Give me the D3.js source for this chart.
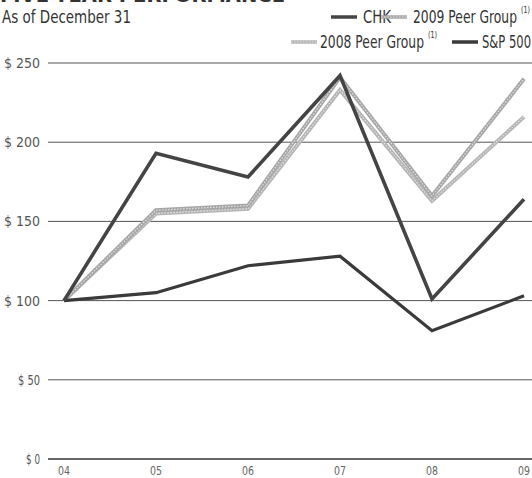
<!DOCTYPE html>
<html>
<head>
<meta charset="utf-8">
<script src="https://cdn.jsdelivr.net/npm/d3@7"></script>
<style>
  html, body { margin: 0; padding: 0; background: #fff; }
  svg { display: block; }
  text { font-family: "DejaVu Sans", "Liberation Sans", sans-serif; }
</style>
</head>
<body>
<svg id="chart" width="532" height="478"></svg>
<script>
// Cumulative value of $100 invested at year-end 2004
const years = ["04", "05", "06", "07", "08", "09"];
const chk = [100, 193, 178, 242, 101, 164];
const peer2009 = [100, 157, 160, 241, 166, 240];
const peer2008 = [100, 155, 158, 233, 163, 216];
const sp500 = [100, 105, 122, 128, 81, 103];
const yTicks = [0, 50, 100, 150, 200, 250];

const svg = d3.select("#chart");
const plotLeft = 48, plotRight = 532;

const x = d3.scalePoint().domain(years).range([64, 524]);
const y = d3.scaleLinear().domain([0, 250]).range([459, 63]);

// Condensed look: squeeze each label to a set width
function fit(sel, w) {
  return sel.attr("textLength", w).attr("lengthAdjust", "spacingAndGlyphs");
}

// Title, clipped at the top edge
fit(svg.append("text")
  .attr("x", 0).attr("y", 2)
  .attr("font-size", 17).attr("font-weight", "bold")
  .attr("fill", "#333")
  .text("FIVE-YEAR PERFORMANCE"), 285);

fit(svg.append("text")
  .attr("x", 2).attr("y", 23)
  .attr("font-size", 17.5).attr("fill", "#333")
  .text("As of December 31"), 129);

// Gridlines with dollar labels
const labelWidth = { 0: 14, 50: 22 };
const grid = svg.append("g");
grid.selectAll("line").data(yTicks).join("line")
  .attr("x1", plotLeft).attr("x2", plotRight)
  .attr("y1", d => y(d)).attr("y2", d => y(d))
  .attr("stroke", d => d === 0 ? "#333" : "#555")
  .attr("stroke-width", d => d === 0 ? 1.4 : 1);
grid.selectAll("text").data(yTicks).join("text")
  .attr("x", 40).attr("y", d => y(d) + 5)
  .attr("text-anchor", "end")
  .attr("font-size", 13.5).attr("fill", "#555")
  .attr("textLength", d => labelWidth[d] || 36)
  .attr("lengthAdjust", "spacingAndGlyphs")
  .text(d => "$ " + d);

// Year labels
svg.append("g").selectAll("text").data(years).join("text")
  .attr("x", d => x(d)).attr("y", 475)
  .attr("text-anchor", "middle")
  .attr("font-size", 13).attr("fill", "#666")
  .attr("textLength", 12)
  .attr("lengthAdjust", "spacingAndGlyphs")
  .text(d => d);

const line = d3.line()
  .x((d, i) => x(years[i]))
  .y(d => y(d));

const series = [
  { name: "2008 Peer Group", values: peer2008, color: "#b4b4b4", width: 4 },
  { name: "2009 Peer Group", values: peer2009, color: "#a6a6a6", width: 4 },
  { name: "S&P 500", values: sp500, color: "#3a3a3a", width: 3.2 },
  { name: "CHK", values: chk, color: "#444", width: 3.6 }
];

const lines = svg.append("g");
series.forEach(s => {
  lines.append("path")
    .datum(s.values)
    .attr("d", line)
    .attr("fill", "none")
    .attr("stroke", s.color)
    .attr("stroke-width", s.width)
    .attr("stroke-linejoin", "miter");
  if (s.name.includes("Peer")) {
    lines.append("path")
      .datum(s.values)
      .attr("d", line)
      .attr("fill", "none")
      .attr("stroke", "#e2e2e2")
      .attr("stroke-width", 1.2)
      .attr("stroke-dasharray", "1.5 1.5");
  }
});

// Legend
const legendItems = [
  { label: "CHK", w: 28, sup: false, sx: 331, tx: 363, ty: 23, color: "#444", light: false },
  { label: "2009 Peer Group", w: 104, sup: true, sx: 381, tx: 413, ty: 23, color: "#a6a6a6", light: true },
  { label: "2008 Peer Group", w: 104, sup: true, sx: 291, tx: 320, ty: 48, color: "#b4b4b4", light: true },
  { label: "S&P 500", w: 49, sup: false, sx: 452, tx: 482, ty: 48, color: "#3a3a3a", light: false }
];
const legend = svg.append("g");
legendItems.forEach(it => {
  legend.append("line")
    .attr("x1", it.sx).attr("x2", it.sx + 26)
    .attr("y1", it.ty - 6).attr("y2", it.ty - 6)
    .attr("stroke", it.color).attr("stroke-width", 3.5);
  if (it.light) {
    legend.append("line")
      .attr("x1", it.sx).attr("x2", it.sx + 26)
      .attr("y1", it.ty - 6).attr("y2", it.ty - 6)
      .attr("stroke", "#e2e2e2").attr("stroke-width", 1)
      .attr("stroke-dasharray", "1.5 1.5");
  }
  fit(legend.append("text")
    .attr("x", it.tx).attr("y", it.ty)
    .attr("font-size", 17.5).attr("fill", "#333")
    .text(it.label), it.w);
  if (it.sup) {
    fit(legend.append("text")
      .attr("x", it.tx + it.w + 4).attr("y", it.ty - 10)
      .attr("font-size", 8).attr("fill", "#333")
      .text("(1)"), 9);
  }
});
</script>
</body>
</html>
